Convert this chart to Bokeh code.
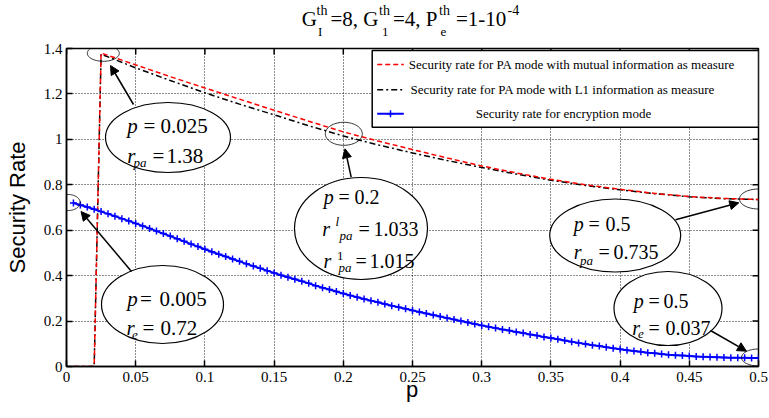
import math
import numpy as np
from bokeh.plotting import figure
from bokeh.layouts import column
from bokeh.models import (Range1d, FixedTicker, Label, Arrow, NormalHead, PolyAnnotation, Div)
from bokeh.embed import file_html
from bokeh.resources import INLINE

# ---------------- data ----------------
x_ticks = [0, 0.05, 0.1, 0.15, 0.2, 0.25, 0.3, 0.35, 0.4, 0.45, 0.5]
x_tick_labels = ["0", "0.05", "0.1", "0.15", "0.2", "0.25", "0.3", "0.35", "0.4", "0.45", "0.5"]
y_ticks = [0, 0.2, 0.4, 0.6, 0.8, 1.0, 1.2, 1.4]
y_tick_labels = ["0", "0.2", "0.4", "0.6", "0.8", "1", "1.2", "1.4"]

p_pa = [0.005, 0.01, 0.015, 0.02, 0.025, 0.05, 0.075, 0.1, 0.125, 0.15, 0.175, 0.2,
        0.225, 0.25, 0.275, 0.3, 0.325, 0.35, 0.375, 0.4, 0.425, 0.45, 0.475, 0.5]
r_pa_mutual = [0, 0, 0, 0, 1.38, 1.328, 1.276, 1.226, 1.177, 1.128, 1.08, 1.033,
               0.993, 0.955, 0.918, 0.883, 0.852, 0.824, 0.80, 0.78, 0.762, 0.748, 0.74, 0.735]
r_pa_l1 = [0, 0, 0, 0, 1.375, 1.315, 1.259, 1.205, 1.155, 1.108, 1.06, 1.015,
           0.976, 0.94, 0.907, 0.876, 0.847, 0.82, 0.797, 0.778, 0.761, 0.747, 0.739, 0.735]

p_enc = [round(0.005 * (i + 1), 3) for i in range(100)]
r_enc = [0.720, 0.711, 0.702, 0.692, 0.682, 0.672, 0.662, 0.651, 0.641, 0.630,
         0.619, 0.608, 0.596, 0.585, 0.574, 0.562, 0.551, 0.539, 0.528, 0.516,
         0.505, 0.494, 0.484, 0.473, 0.463, 0.452, 0.442, 0.432, 0.422, 0.412,
         0.402, 0.393, 0.384, 0.375, 0.366, 0.356, 0.347, 0.339, 0.330, 0.321,
         0.313, 0.305, 0.297, 0.290, 0.283, 0.275, 0.268, 0.261, 0.254, 0.247,
         0.240, 0.233, 0.227, 0.220, 0.213, 0.207, 0.200, 0.194, 0.187, 0.181,
         0.175, 0.169, 0.163, 0.158, 0.152, 0.147, 0.141, 0.136, 0.130, 0.125,
         0.120, 0.114, 0.109, 0.104, 0.099, 0.094, 0.090, 0.085, 0.080, 0.076,
         0.072, 0.068, 0.065, 0.061, 0.058, 0.055, 0.052, 0.050, 0.048, 0.046,
         0.044, 0.043, 0.042, 0.041, 0.040, 0.039, 0.038, 0.038, 0.037, 0.037]

legend_labels = ["Security rate for PA mode with mutual information as measure",
                 "Security rate for PA mode with L1 information as measure",
                 "Security rate for encryption mode"]
x_label = "p"
y_label = "Security Rate"

SERIF = "Liberation Serif"
SANS = "Liberation Sans"

W = 769
TITLE_H = 39
XL_H = 20
# frame in picture pixels (used only to place callouts)
FL, FR, FT, FB = 66, 758, 48, 366
def X(px):
    return (px - FL) / (FR - FL) * 0.5
def Y(py):
    return (FB - py) / (FB - FT) * 1.4

# ---------------- figure ----------------
p = figure(width=W, height=(FT - TITLE_H) + (FB - FT) + 24,
           x_range=Range1d(0, 0.5), y_range=Range1d(0, 1.4),
           output_backend="svg", toolbar_location=None, title=None,
           min_border_left=FL, min_border_right=W - FR, min_border_top=FT - TITLE_H,
           min_border_bottom=24)
p.background_fill_color = "white"
p.border_fill_color = "white"
p.outline_line_color = "black"
p.outline_line_width = 1.5

xt = FixedTicker(ticks=x_ticks)
yt = FixedTicker(ticks=y_ticks)
p.xaxis.ticker = xt
p.yaxis.ticker = yt
p.xaxis.major_label_overrides = {t: l for t, l in zip(x_ticks, x_tick_labels)}
p.yaxis.major_label_overrides = {t: l for t, l in zip(y_ticks, y_tick_labels)}
for ax in (p.xaxis[0], p.yaxis[0]):
    ax.major_label_text_font = SERIF
    ax.major_label_text_font_size = "15px"
    ax.major_label_text_color = "black"
    ax.axis_line_width = 1.5
    ax.major_tick_line_width = 1.5
    ax.major_tick_in = 6
    ax.major_tick_out = 0
    ax.minor_tick_in = 0
    ax.minor_tick_out = 0
p.xaxis.major_label_standoff = 5
p.yaxis.major_label_standoff = 4
p.yaxis.axis_label = y_label
p.yaxis.axis_label_text_font = SANS
p.yaxis.axis_label_text_font_style = "normal"
p.yaxis.axis_label_text_font_size = "22px"
p.yaxis.axis_label_text_color = "black"
p.yaxis.axis_label_standoff = 11

p.xgrid.ticker = xt
p.ygrid.ticker = yt
for g in (p.xgrid[0], p.ygrid[0]):
    g.grid_line_color = "black"
    g.grid_line_dash = "1 2"
    g.grid_line_width = 1
    g.grid_line_alpha = 0.9

# inward ticks on the top and right edges of the box
tick_dy = 6 / (FB - FT) * 1.4
tick_dx = 6 / (FR - FL) * 0.5
p.segment(x0=x_ticks, y0=[1.4] * len(x_ticks), x1=x_ticks, y1=[1.4 - tick_dy] * len(x_ticks),
          line_color="black", line_width=1.5)
p.segment(x0=[0.5] * len(y_ticks), y0=y_ticks, x1=[0.5 - tick_dx] * len(y_ticks), y1=y_ticks,
          line_color="black", line_width=1.5)

# ---------------- curves ----------------
p.line(p_pa, r_pa_l1, line_color="black", line_width=1.5, line_dash="6 3 2 3")
p.line(p_pa, r_pa_mutual, line_color="red", line_width=1.5, line_dash="5 3")
p.line(p_enc, r_enc, line_color="blue", line_width=2)
p.scatter(p_enc, r_enc, marker="cross", size=7, line_color="blue", line_width=1.5)

# ---------------- legend ----------------
p.quad(left=[X(371.7)], right=[X(758)], top=[Y(50)], bottom=[Y(126.7)],
       fill_color="white", line_color="black", line_width=1.5)
p.line([X(376.7), X(403.3)], [Y(64), Y(64)], line_color="red", line_width=1.5, line_dash="5 3")
p.line([X(376.7), X(403.3)], [Y(89.3), Y(89.3)], line_color="black", line_width=1.5,
       line_dash="6 3 2 3")
p.line([X(376.7), X(403.3)], [Y(113.3), Y(113.3)], line_color="blue", line_width=2)
p.scatter([X(390)], [Y(113.3)], marker="cross", size=7, line_color="blue", line_width=1.5)
for (lx, ly, al), txt in zip([(408.3, 64, "left"), (410, 89.3, "left"), (563, 113.3, "center")],
                             legend_labels):
    p.add_layout(Label(x=X(lx), y=Y(ly), text=txt, text_font=SERIF, text_font_size="13px",
                       text_color="black", text_align=al, text_baseline="middle"))

# ---------------- callout ellipses ----------------
big = [(167.5, 137, 125, 70), (162, 304, 122, 78), (360.5, 228, 133, 102),
       (614.7, 235, 131, 73), (667.5, 308, 108, 74)]
p.ellipse(x=[X(c[0]) for c in big], y=[Y(c[1]) for c in big],
          width=[c[2] / (FR - FL) * 0.5 for c in big],
          height=[c[3] / (FB - FT) * 1.4 for c in big],
          fill_color="white", line_color="black", line_width=1.2)

t = np.linspace(0, 2 * np.pi, 73)
small = [(102.8, 52.8, 32, 16), (67.7, 202, 24, 16), (343.3, 133.3, 37, 23),
         (758, 198.5, 38, 20), (758, 357, 34, 17)]
for cx, cy, w, h in small:
    xs = [X(cx + w / 2 * math.cos(a)) for a in t]
    ys = [Y(cy + h / 2 * math.sin(a)) for a in t]
    p.add_layout(PolyAnnotation(xs=xs, ys=ys, fill_alpha=0, line_color="black",
                                line_width=0.8, line_alpha=1))

arrows = [((133, 104), (110, 65)), ((131, 271), (80.5, 211)), ((350.7, 176.7), (344.5, 148.3)),
          ((675, 219.3), (738.3, 202.3)), ((710, 330), (746, 350.7))]
for (x0, y0), (x1, y1) in arrows:
    p.add_layout(Arrow(x_start=X(x0), y_start=Y(y0), x_end=X(x1), y_end=Y(y1),
                       line_color="black", line_width=1.5,
                       end=NormalHead(size=9, fill_color="black", line_color="black", line_width=1)))

IT, NO = "italic", "normal"
segments = [
    # p = 0.025 / r_pa = 1.38
    ("p", 126.7, 125, 21, IT), ("=", 143, 125, 21, NO), ("0.025", 160, 125, 21, NO),
    ("r", 126.7, 155, 21, IT), ("pa", 133, 162, 13, IT), ("=", 152, 155, 21, NO), ("1.38", 166, 155, 21, NO),
    # p = 0.005 / r_e = 0.72
    ("p", 126.7, 298.3, 21, IT), ("=", 139.5, 298.3, 21, NO), ("0.005", 159, 298.3, 21, NO),
    ("r", 126, 327.3, 21, IT), ("e", 131.5, 334, 13, IT), ("=", 142, 327.3, 21, NO), ("0.72", 160, 327.3, 21, NO),
    # p = 0.2 / r^l_pa = 1.033 / r^1_pa = 1.015
    ("p", 323.3, 196.7, 20, IT), ("=", 338, 196.7, 20, NO), ("0.2", 354, 196.7, 20, NO),
    ("r", 321.7, 228.3, 20, IT), ("l", 335, 221, 13, IT), ("pa", 339, 235, 13, IT),
    ("=", 358, 228.3, 20, NO), ("1.033", 373, 228.3, 20, NO),
    ("r", 323, 260, 20, IT), ("1", 336.5, 255, 13, NO), ("pa", 338, 266.7, 13, IT),
    ("=", 355, 260, 20, NO), ("1.015", 369, 260, 20, NO),
    # p = 0.5 / r_pa = 0.735
    ("p", 573.3, 223.3, 20, IT), ("=", 588, 223.3, 20, NO), ("0.5", 605, 223.3, 20, NO),
    ("r", 573.3, 251.7, 20, IT), ("pa", 579.5, 259.5, 13, IT), ("=", 598, 251.7, 20, NO), ("0.735", 613, 251.7, 20, NO),
    # p = 0.5 / r_e = 0.037
    ("p", 633.3, 300, 20, IT), ("=", 648, 300, 20, NO), ("0.5", 663, 300, 20, NO),
    ("r", 631.7, 327.3, 20, IT), ("e", 637.5, 333.5, 13, IT), ("=", 648, 327.3, 20, NO), ("0.037", 665, 327.3, 20, NO),
]
for txt, px, py, fs, st in segments:
    p.add_layout(Label(x=X(px), y=Y(py), text=txt, text_font=SERIF, text_font_size=f"{fs}px",
                       text_font_style=st, text_color="black", text_align="left",
                       text_baseline="alphabetic"))

# ---------------- title (HTML, with sub/superscripts) ----------------
title_parts = [
    ("G", 301.7, 26.7, 21), ("th", 316.5, 15.5, 14), ("I", 318, 36, 13),
    ("=8, G", 330.5, 26.7, 21), ("th", 379, 15.5, 14), ("1", 382, 36, 13),
    ("=4, P", 393, 26.7, 21), ("th", 439, 15.5, 14), ("e", 440.5, 36, 13),
    ("=1-10", 456, 26.7, 21), ("-4", 507.5, 15.5, 14),
]
def span(txt, px, py, fs, top0, fam, asc, style="normal"):
    top = py - top0 - asc * fs
    return (f'<span style="position:absolute;left:{px:.1f}px;top:{top:.1f}px;'
            f"font:{style} {fs}px/1 '{fam}';color:black;white-space:nowrap\">{txt}</span>")

title_html = (f'<div style="position:relative;width:{W}px;height:{TITLE_H}px;overflow:visible">'
              + "".join(span(t_, x_, y_, f_, 0, SERIF, 0.8375) for t_, x_, y_, f_ in title_parts)
              + "</div>")
title_div = Div(text=title_html, width=W, height=TITLE_H, margin=0,
                styles={"overflow": "visible"})

# x-axis title (HTML, placed right under the tick labels)
fig_bottom = TITLE_H + p.height
xl_html = (f'<div style="position:relative;width:{W}px;height:{XL_H}px;overflow:visible">'
           + span(x_label, 406, 398, 22, fig_bottom, SANS, 0.8465) + "</div>")
xl_div = Div(text=xl_html, width=W, height=XL_H, margin=0, styles={"overflow": "visible"})

layout = column(title_div, p, xl_div, spacing=0)
open("out.html", "w").write(file_html(layout, INLINE))
